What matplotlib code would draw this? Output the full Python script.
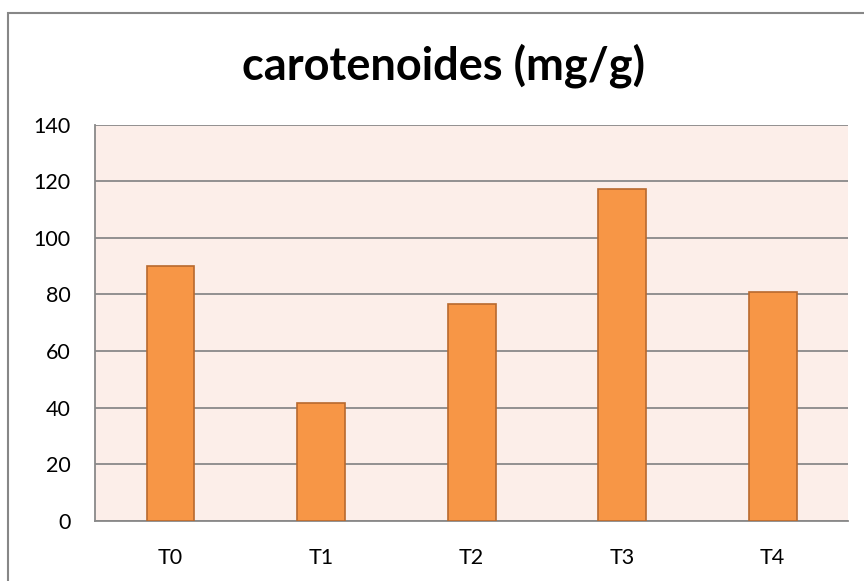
import matplotlib
matplotlib.use("Agg")
import matplotlib.pyplot as plt
from matplotlib.patches import Rectangle

categories = ["T0", "T1", "T2", "T3", "T4"]
values = [90.0, 41.7, 76.6, 117.2, 80.8]
yticks = [0, 20, 40, 60, 80, 100, 120, 140]
title = "carotenoides (mg/g)"

plt.rcParams['font.family'] = ['Lato', 'DejaVu Sans']

W, H = 864, 581
fig = plt.figure(figsize=(W / 100, H / 100), dpi=100)
fig.patch.set_facecolor("white")

# outer chart frame (cropped at right/bottom)
fig.patches.append(Rectangle((8 / W, -0.1), 1.2, (H - 13) / H + 0.1,
                             transform=fig.transFigure, fill=False,
                             edgecolor="#878787", linewidth=1.5))

ax = fig.add_axes([95.3 / W, (H - 520.7) / H, (848 - 95.3) / W, (520.7 - 124.7) / H])
ax.set_facecolor("#FCEEE9")
x = range(len(categories))
ax.bar(x, values, width=0.317, color="#F79646", edgecolor="#B8692E", linewidth=1.2, zorder=3)
ax.set_xlim(-0.5, len(categories) - 0.5)
ax.set_ylim(0, 140)
ax.set_yticks(yticks)
ax.set_xticks(list(x))
ax.set_xticklabels(categories)
ax.grid(axis="y", color="#898989", linewidth=1.3, zorder=1)
ax.set_axisbelow(True)
for s in ["top", "right"]:
    ax.spines[s].set_visible(False)
ax.spines["left"].set_color("#898989")
ax.spines["bottom"].set_color("#898989")
ax.spines["left"].set_linewidth(1.3)
ax.spines["bottom"].set_linewidth(1.3)
ax.tick_params(axis="both", length=0, labelsize=15.5, colors="black")
ax.tick_params(axis="y", pad=18)
ax.tick_params(axis="x", pad=20)

fig.text(443 / W, (H - 66) / H, title, ha="center", va="center",
         fontsize=32.5, fontweight="bold")

fig.savefig("out.png", dpi=100)
